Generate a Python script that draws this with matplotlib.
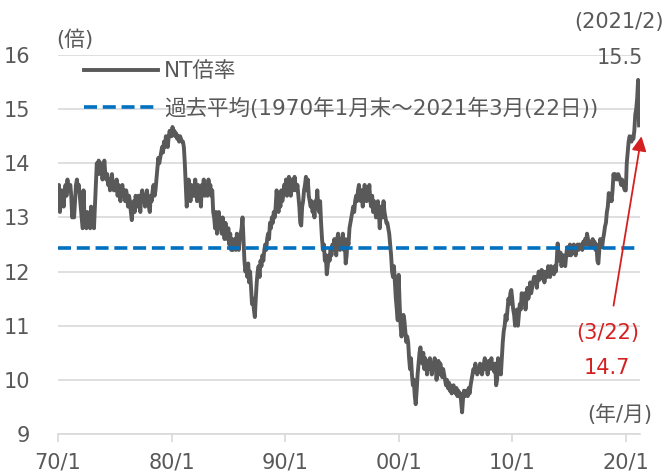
import matplotlib.pyplot as plt
import numpy as np

# NT倍率 (月次, 1970/1 ～ 2021/3)
nt_by_year = {
    1970: [13.2, 13.6, 13.1, 13.3, 13.5, 13.4, 13.2, 13.5, 13.6, 13.4, 13.7, 13.5],
    1971: [13.5, 13.6, 13.4, 13.0, 13.1, 13.0, 13.3, 13.6, 13.7, 13.5, 13.6, 13.4],
    1972: [13.2, 13.0, 12.8, 13.5, 13.0, 12.9, 12.8, 13.1, 12.9, 13.0, 12.8, 13.2],
    1973: [12.9, 13.1, 12.8, 13.2, 13.6, 14.0, 13.8, 14.05, 13.9, 13.8, 14.0, 13.7],
    1974: [13.9, 14.05, 13.8, 13.7, 13.8, 13.6, 13.7, 13.5, 13.6, 13.8, 13.6, 13.5],
    1975: [13.6, 13.5, 13.7, 13.4, 13.6, 13.5, 13.3, 13.5, 13.6, 13.4, 13.5, 13.3],
    1976: [13.5, 13.4, 13.2, 13.4, 13.3, 13.1, 12.95, 13.2, 13.3, 13.1, 13.4, 13.3],
    1977: [13.2, 13.4, 13.3, 13.1, 13.4, 13.5, 13.3, 13.4, 13.2, 13.4, 13.5, 13.3],
    1978: [13.2, 13.1, 13.4, 13.3, 13.5, 13.6, 13.4, 13.5, 13.7, 13.9, 14.1, 14.0],
    1979: [14.1, 14.2, 14.3, 14.2, 14.4, 14.3, 14.5, 14.4, 14.3, 14.5, 14.6, 14.5],
    1980: [14.5, 14.67, 14.55, 14.6, 14.5, 14.55, 14.45, 14.5, 14.4, 14.5, 14.45, 14.4],
    1981: [14.4, 14.3, 14.0, 13.6, 13.2, 13.4, 13.7, 13.5, 13.3, 13.6, 13.4, 13.5],
    1982: [13.4, 13.7, 13.5, 13.3, 13.6, 13.4, 13.5, 13.2, 13.6, 13.5, 13.7, 13.4],
    1983: [13.5, 13.6, 13.4, 13.7, 13.5, 13.6, 13.4, 13.5, 13.1, 13.0, 12.8, 13.1],
    1984: [12.7, 12.9, 13.1, 12.8, 12.9, 12.7, 13.0, 12.8, 12.6, 12.9, 12.7, 12.6],
    1985: [12.8, 12.5, 12.7, 12.4, 12.6, 12.4, 12.5, 12.6, 12.4, 12.7, 12.5, 12.4],
    1986: [12.6, 12.7, 12.8, 13.0, 12.6, 12.2, 12.0, 12.1, 11.9, 12.15, 11.8, 12.0],
    1987: [11.7, 11.4, 11.5, 11.3, 11.16, 11.5, 11.8, 12.0, 12.1, 11.9, 12.2, 12.1],
    1988: [12.3, 12.2, 12.4, 12.5, 12.4, 12.6, 12.7, 12.6, 12.9, 12.8, 13.0, 12.9],
    1989: [13.1, 13.0, 13.2, 13.5, 13.3, 13.1, 13.4, 13.2, 13.5, 13.3, 13.4, 13.6],
    1990: [13.5, 13.7, 13.4, 13.6, 13.75, 13.5, 13.4, 13.7, 13.6, 13.5, 13.75, 13.6],
    1991: [13.5, 13.6, 13.4, 13.2, 12.9, 12.85, 13.2, 13.3, 13.5, 13.6, 13.75, 13.5],
    1992: [13.7, 13.4, 13.3, 13.2, 13.3, 13.1, 13.2, 13.0, 13.3, 13.24, 13.5, 13.2],
    1993: [13.1, 13.3, 12.9, 12.6, 12.4, 12.5, 12.2, 12.3, 11.95, 12.1, 12.3, 12.2],
    1994: [12.4, 12.3, 12.5, 12.4, 12.6, 12.5, 12.3, 12.6, 12.7, 12.5, 12.4, 12.6],
    1995: [12.5, 12.7, 12.4, 12.6, 12.15, 12.3, 12.6, 12.5, 12.8, 12.9, 13.0, 13.1],
    1996: [13.2, 13.1, 13.3, 13.4, 13.3, 13.5, 13.6, 13.4, 13.3, 13.5, 13.2, 13.4],
    1997: [13.6, 13.5, 13.3, 13.5, 13.4, 13.6, 13.3, 13.2, 13.4, 13.1, 13.3, 13.2],
    1998: [13.0, 13.2, 13.3, 13.1, 12.8, 13.1, 13.2, 13.0, 13.3, 13.1, 13.0, 12.9],
    1999: [12.9, 12.8, 12.7, 12.5, 12.3, 12.0, 11.9, 12.1, 11.8, 11.5, 11.3, 11.1],
    2000: [11.94, 11.4, 11.0, 10.8, 11.0, 11.2, 11.1, 10.9, 10.7, 10.8, 10.7, 10.4],
    2001: [10.2, 10.4, 10.1, 9.9, 10.0, 9.7, 9.55, 9.8, 10.1, 10.3, 10.5, 10.6],
    2002: [10.4, 10.3, 10.5, 10.2, 10.4, 10.3, 10.1, 10.35, 10.2, 10.4, 10.3, 10.1],
    2003: [10.3, 10.2, 10.4, 10.3, 10.0, 10.2, 10.35, 10.1, 10.3, 10.2, 10.05, 10.2],
    2004: [10.1, 10.0, 9.9, 10.0, 9.85, 9.95, 9.8, 9.9, 9.75, 9.85, 9.9, 9.8],
    2005: [9.75, 9.85, 9.7, 9.8, 9.7, 9.75, 9.6, 9.4, 9.65, 9.8, 9.7, 9.75],
    2006: [9.8, 9.7, 9.85, 9.75, 9.9, 10.0, 10.1, 10.2, 10.15, 10.3, 10.2, 10.1],
    2007: [10.2, 10.15, 10.3, 10.25, 10.1, 10.2, 10.3, 10.4, 10.2, 10.3, 10.1, 10.35],
    2008: [10.2, 10.3, 10.4, 10.2, 10.25, 10.15, 10.3, 9.9, 10.0, 10.4, 10.3, 10.2],
    2009: [10.1, 10.4, 10.7, 10.9, 11.0, 11.2, 11.1, 11.3, 11.5, 11.4, 11.6, 11.66],
    2010: [11.5, 11.3, 11.2, 11.0, 11.1, 11.3, 11.0, 11.2, 11.4, 11.3, 11.6, 11.5],
    2011: [11.4, 11.6, 11.3, 11.5, 11.7, 11.5, 11.6, 11.8, 11.6, 11.7, 11.8, 11.9],
    2012: [11.8, 11.9, 11.7, 11.9, 12.0, 11.85, 11.9, 12.03, 11.9, 12.0, 11.8, 11.95],
    2013: [12.0, 11.9, 12.1, 12.0, 11.9, 12.1, 12.0, 12.05, 11.95, 12.1, 12.0, 12.2],
    2014: [12.52, 12.3, 12.2, 12.35, 12.1, 12.2, 12.3, 12.15, 12.1, 12.3, 12.45, 12.3],
    2015: [12.4, 12.5, 12.3, 12.4, 12.35, 12.5, 12.4, 12.3, 12.45, 12.5, 12.4, 12.5],
    2016: [12.45, 12.5, 12.4, 12.55, 12.5, 12.6, 12.5, 12.7, 12.6, 12.5, 12.45, 12.55],
    2017: [12.5, 12.6, 12.45, 12.55, 12.4, 12.5, 12.2, 12.15, 12.4, 12.6, 12.5, 12.45],
    2018: [12.6, 12.7, 12.83, 12.9, 13.1, 13.2, 13.45, 13.3, 13.4, 13.3, 13.5, 13.8],
    2019: [13.7, 13.8, 13.75, 13.7, 13.8, 13.75, 13.7, 13.6, 13.7, 13.65, 13.55, 13.5],
    2020: [13.5, 14.0, 14.2, 14.4, 14.5, 14.45, 14.4, 14.5, 14.45, 14.6, 14.9, 15.0],
    2021: [15.2, 15.54, 14.7],
}
avg_value = 12.44
x_ticks = [1970, 1980, 1990, 2000, 2010, 2020]
x_labels = ['70/1', '80/1', '90/1', '00/1', '10/1', '20/1']
y_ticks = [9, 10, 11, 12, 13, 14, 15, 16]

years = []
values = []
for yr, vals in nt_by_year.items():
    for i, v in enumerate(vals):
        years.append(yr + i / 12)
        values.append(v)
years = np.array(years)
values = np.array(values)

plt.rcParams['font.family'] = ['DejaVu Sans', 'Noto Sans CJK JP']
gray = '#595959'
red = '#d42020'
fs = 15

fig = plt.figure(figsize=(6.71, 4.73), dpi=100)
ax = fig.add_axes([58 / 671, 1 - 434 / 473, (640 - 58) / 671, (434 - 55) / 473])

ax.plot(years, values, color=gray, lw=2.8, label='NT倍率', solid_joinstyle='round')
ax.axhline(avg_value, color='#0070c0', lw=2.6, dashes=(3.6, 1.6),
           label='過去平均(1970年1月末～2021年3月(22日))')

ax.set_xlim(1970, 2021.25)
ax.set_ylim(9, 16)
ax.set_yticks(y_ticks)
ax.set_xticks(x_ticks)
ax.set_xticklabels(x_labels)
ax.grid(axis='y', color='#d9d9d9', lw=1.2)
ax.set_axisbelow(True)
for s in ['top', 'right', 'left']:
    ax.spines[s].set_visible(False)
ax.spines['bottom'].set_color('#d9d9d9')
ax.spines['bottom'].set_linewidth(1.2)
ax.tick_params(axis='x', colors='#d9d9d9', length=6, width=1.2, labelcolor=gray,
               labelsize=fs, pad=7)
ax.tick_params(axis='y', length=0, labelcolor=gray, labelsize=fs, pad=20)

leg = ax.legend(loc='upper left', bbox_to_anchor=(22 / 582, 0.995), frameon=False,
                fontsize=15.5, handlelength=3.4, handletextpad=0.3,
                labelspacing=0.75, borderpad=0.2, borderaxespad=0)
for t in leg.get_texts():
    t.set_color(gray)

ax.annotate('', xy=(2021.42, 14.55), xytext=(2018.88, 11.32),
            arrowprops=dict(arrowstyle='-|>', color=red, lw=1.3, mutation_scale=22),
            annotation_clip=False)
ax.text(2018.4, 10.87, '(3/22)', color=red, fontsize=fs, ha='center', va='center')
ax.text(2018.33, 10.22, '14.7', color=red, fontsize=fs, ha='center', va='center')
ax.text(2019.47, 9.35, '(年/月)', color=gray, fontsize=fs, ha='center', va='center')
ax.text(2019.47, 15.94, '15.5', color=gray, fontsize=fs, ha='center', va='center',
        clip_on=False)
ax.text(2019.4, 16.61, '(2021/2)', color=gray, fontsize=fs, ha='center', va='center',
        clip_on=False)
ax.text(1971.5, 16.28, '(倍)', color=gray, fontsize=fs, ha='center', va='center',
        clip_on=False)

fig.savefig('out.png', dpi=100)
